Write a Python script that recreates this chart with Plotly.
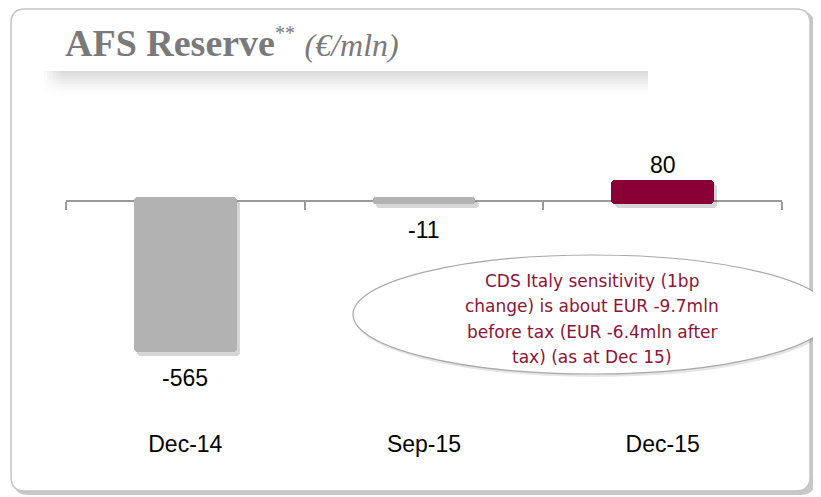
import plotly.graph_objects as go

# ---- data ----
categories = ["Dec-14", "Sep-15", "Dec-15"]
values = [-565, -11, 80]
value_labels = ["-565", "-11", "80"]
bar_colors = ["#b2b2b2", "#b2b2b2", "#8a0036"]
title_main = "AFS Reserve"
title_sup = "**"
title_unit = "(€/mln)"
note_lines = [
    "CDS Italy sensitivity (1bp",
    "change) is about EUR -9.7mln",
    "before tax (EUR -6.4mln after",
    "tax) (as at Dec 15)",
]

# ---- layout geometry (screen pixel targets; page has an 8px body margin) ----
W, H = 821, 497
OFF = 8
PLOT_L, PLOT_R, PLOT_T, PLOT_B = 66, 782, 120, 428
ML, MT = PLOT_L - OFF, PLOT_T - OFF
MR, MB = W - (PLOT_R - OFF), H - (PLOT_B - OFF)
PW, PH = PLOT_R - PLOT_L, PLOT_B - PLOT_T
Y_RANGE = [-850, 303]
UNITS_PER_PX = (Y_RANGE[1] - Y_RANGE[0]) / PH


def px(x):
    return (x - PLOT_L) / PW


def py(y):
    return 1 - (y - PLOT_T) / PH


def rounded_rect(x0, y0, x1, y1, r):
    rx, ry = r / PW, r / PH
    X0, X1, Y0, Y1 = px(x0), px(x1), py(y0), py(y1)
    return (
        f"M {X0+rx},{Y0} L {X1-rx},{Y0} Q {X1},{Y0} {X1},{Y0-ry} "
        f"L {X1},{Y1+ry} Q {X1},{Y1} {X1-rx},{Y1} "
        f"L {X0+rx},{Y1} Q {X0},{Y1} {X0},{Y1+ry} "
        f"L {X0},{Y0-ry} Q {X0},{Y0} {X0+rx},{Y0} Z"
    )


n = len(categories)
bar_w = 0.43
shadow_shift = 4 * UNITS_PER_PX
base_pad = 3.5 * UNITS_PER_PX  # bars start slightly past the zero line
bases = [base_pad if v < 0 else -base_pad for v in values]
lengths = [v - b for v, b in zip(values, bases)]

fig = go.Figure()

# bar shadows
fig.add_trace(go.Bar(
    x=categories, y=lengths, base=[b - shadow_shift for b in bases],
    width=bar_w, offset=-bar_w / 2 + 0.014,
    marker=dict(color="rgba(0,0,0,0.16)", cornerradius=4, line=dict(width=0)),
    hoverinfo="skip", showlegend=False,
))
# bars
fig.add_trace(go.Bar(
    x=categories, y=lengths, base=bases, width=bar_w, offset=-bar_w / 2,
    marker=dict(color=bar_colors, cornerradius=4, line=dict(width=0)),
    customdata=values, hovertemplate="%{x}: %{customdata}<extra></extra>",
    showlegend=False,
))
# helper trace for the zero-line axis
fig.add_trace(go.Scatter(
    x=[-0.5, n - 0.5], y=[0, 0], xaxis="x2", mode="lines",
    line=dict(width=0), opacity=0, hoverinfo="skip", showlegend=False,
))

shapes = []
# card shadow and card
shapes.append(dict(type="path", xref="paper", yref="paper", layer="below",
                   path=rounded_rect(14, 12, 815, 495, 14),
                   fillcolor="#c8c8c8", line=dict(width=0)))
shapes.append(dict(type="path", xref="paper", yref="paper", layer="below",
                   path=rounded_rect(11, 9, 810, 491, 14),
                   fillcolor="white", line=dict(color="#c4c4c4", width=1.5)))
# gradient band under the title
steps = 10
for i in range(steps):
    a = 0.14 * (1 - i / steps) ** 1.5
    shapes.append(dict(type="rect", xref="paper", yref="paper", layer="below",
                       x0=px(44), x1=px(648),
                       y0=py(71 + 2.6 * (i + 1)), y1=py(71 + 2.6 * i),
                       fillcolor=f"rgba(0,0,0,{a:.3f})", line=dict(width=0)))
# soften the left end of the band
for i in range(6):
    shapes.append(dict(type="rect", xref="paper", yref="paper", layer="below",
                       x0=px(44 + 3 * i), x1=px(47 + 3 * i), y0=py(98), y1=py(70),
                       fillcolor=f"rgba(255,255,255,{0.8 * (1 - i / 6):.3f})",
                       line=dict(width=0)))
# note ellipse (shadow + ellipse)
shapes.append(dict(type="circle", xref="paper", yref="paper", layer="above",
                   x0=px(354), x1=px(834), y0=py(377), y1=py(257),
                   fillcolor="rgba(0,0,0,0.10)", line=dict(width=0)))
shapes.append(dict(type="circle", xref="paper", yref="paper", layer="above",
                   x0=px(353), x1=px(832), y0=py(374), y1=py(255),
                   fillcolor="white", line=dict(color="#a8a8a8", width=1.2)))

annotations = []
# title
annotations.append(dict(
    xref="paper", yref="paper", x=px(63), y=py(43), xanchor="left", yanchor="middle",
    showarrow=False,
    text=(f"<b>{title_main}</b><sup><span style='font-size:20px'>{title_sup}</span></sup> "
          f"<i><span style='font-size:32px'>{title_unit}</span></i>"),
    font=dict(family="Liberation Serif", size=38, color="#7a7a7a"),
))
# value labels
for c, v, t in zip(categories, values, value_labels):
    annotations.append(dict(
        x=c, y=v, xref="x", yref="y", showarrow=False, text=t,
        yanchor="middle", yshift=(15 if v >= 0 else -26),
        font=dict(family="Liberation Sans", size=23, color="black"),
    ))
# note text
for i, line in enumerate(note_lines):
    annotations.append(dict(
        xref="paper", yref="paper", x=px(592), y=py(281 + 25.3 * i),
        xanchor="center", yanchor="middle", showarrow=False, text=line,
        font=dict(family="DejaVu Sans", size=17, color="#8a1538"),
    ))

zero_pos = (0 - Y_RANGE[0]) / (Y_RANGE[1] - Y_RANGE[0])

fig.update_layout(
    width=W, height=H,
    margin=dict(l=ML, r=MR, t=MT, b=MB),
    paper_bgcolor="white", plot_bgcolor="rgba(0,0,0,0)",
    barmode="overlay", bargap=0,
    xaxis=dict(type="category", range=[-0.5, n - 0.5], showline=False,
               showgrid=False, zeroline=False, ticks="",
               tickfont=dict(family="Liberation Sans", size=23, color="black")),
    xaxis2=dict(overlaying="x", anchor="free", position=zero_pos, side="bottom",
                range=[-0.5, n - 0.5], tickvals=[i - 0.5 for i in range(n + 1)],
                ticks="outside", ticklen=8, tickwidth=1.5, tickcolor="#9a9a9a",
                showline=True, linecolor="#9a9a9a", linewidth=1.5,
                showticklabels=False, showgrid=False, zeroline=False,
                layer="below traces"),
    yaxis=dict(range=Y_RANGE, visible=False, showgrid=False, zeroline=False),
    shapes=shapes,
    annotations=annotations,
)

fig.write_html("out.html")
